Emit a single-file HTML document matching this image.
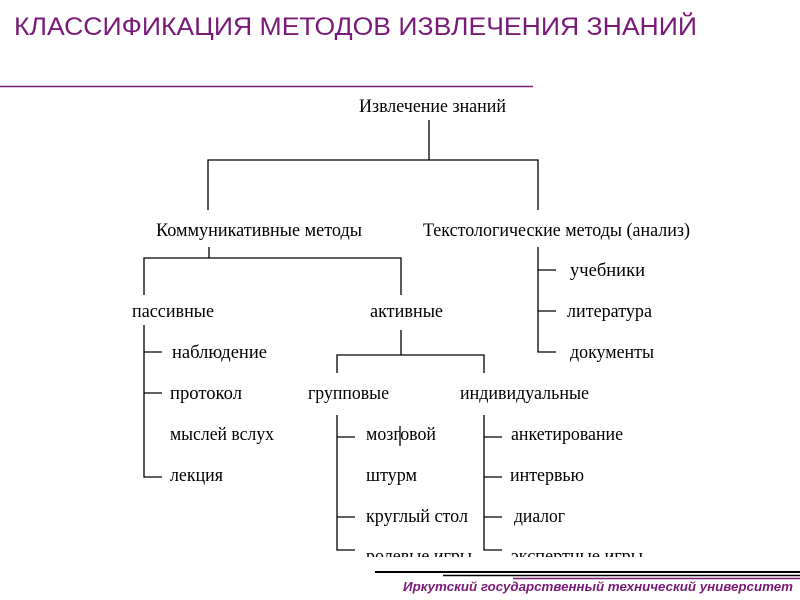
<!DOCTYPE html>
<html><head><meta charset="utf-8"><style>
html,body{margin:0;padding:0;background:#fff;width:800px;height:600px;overflow:hidden}
</style></head><body>
<svg width="800" height="600" xmlns="http://www.w3.org/2000/svg">
<text x="14" y="35" font-family="Liberation Sans, sans-serif" font-size="25" fill="#7a1a78" textLength="683" lengthAdjust="spacingAndGlyphs">КЛАССИФИКАЦИЯ МЕТОДОВ ИЗВЛЕЧЕНИЯ ЗНАНИЙ</text>
<line x1="0" y1="86.5" x2="533" y2="86.5" stroke="#7a1a78" stroke-width="1.5"/>
<defs><clipPath id="c"><rect x="0" y="90" width="800" height="467"/></clipPath></defs>
<g clip-path="url(#c)" font-family="Liberation Serif, serif" font-size="19" fill="#000" lengthAdjust="spacingAndGlyphs">
<g stroke="#000" stroke-width="1.3" fill="none">
<path d="M429 120V160M208 210V160H538V210"/>
<path d="M209 247V258M144 295V258H401V295"/>
<path d="M538 247V352H556M538 270H556M538 311H556"/>
<path d="M144 325V477H162M144 352H162M144 393H162"/>
<path d="M401 330V355M337 373V355H484V373"/>
<path d="M337 415V550H355M337 437H355M337 517H355"/>
<path d="M484 415V550H502M484 437H502M484 477H502M484 517H502"/>
<path d="M400 426V446"/>
</g>
<text x="359" y="112" textLength="147" lengthAdjust="spacingAndGlyphs">Извлечение знаний</text>
<text x="156" y="236" textLength="206" lengthAdjust="spacingAndGlyphs">Коммуникативные методы</text>
<text x="423" y="236" textLength="267" lengthAdjust="spacingAndGlyphs">Текстологические методы (анализ)</text>
<text x="570" y="276" textLength="75" lengthAdjust="spacingAndGlyphs">учебники</text>
<text x="567" y="317" textLength="85" lengthAdjust="spacingAndGlyphs">литература</text>
<text x="570" y="358" textLength="84" lengthAdjust="spacingAndGlyphs">документы</text>
<text x="132" y="317" textLength="82" lengthAdjust="spacingAndGlyphs">пассивные</text>
<text x="370" y="317" textLength="73" lengthAdjust="spacingAndGlyphs">активные</text>
<text x="172" y="358" textLength="95" lengthAdjust="spacingAndGlyphs">наблюдение</text>
<text x="170" y="399" textLength="72" lengthAdjust="spacingAndGlyphs">протокол</text>
<text x="170" y="440" textLength="104" lengthAdjust="spacingAndGlyphs">мыслей вслух</text>
<text x="170" y="481" textLength="53" lengthAdjust="spacingAndGlyphs">лекция</text>
<text x="308" y="399" textLength="81" lengthAdjust="spacingAndGlyphs">групповые</text>
<text x="460" y="399" textLength="129" lengthAdjust="spacingAndGlyphs">индивидуальные</text>
<text x="366" y="440" textLength="70" lengthAdjust="spacingAndGlyphs">мозговой</text>
<text x="366" y="481" textLength="51" lengthAdjust="spacingAndGlyphs">штурм</text>
<text x="366" y="522" textLength="102" lengthAdjust="spacingAndGlyphs">круглый стол</text>
<text x="366" y="562" textLength="106" lengthAdjust="spacingAndGlyphs">ролевые игры</text>
<text x="511" y="440" textLength="112" lengthAdjust="spacingAndGlyphs">анкетирование</text>
<text x="510" y="481" textLength="74" lengthAdjust="spacingAndGlyphs">интервью</text>
<text x="514" y="522" textLength="51" lengthAdjust="spacingAndGlyphs">диалог</text>
<text x="511" y="562" textLength="132" lengthAdjust="spacingAndGlyphs">экспертные игры</text>
</g>
<line x1="375" y1="572" x2="800" y2="572" stroke="#000" stroke-width="2"/>
<line x1="443" y1="575.5" x2="800" y2="575.5" stroke="#000" stroke-width="1.5"/>
<line x1="513" y1="578.5" x2="800" y2="578.5" stroke="#7a1a78" stroke-width="1.5"/>
<text x="403" y="591" font-family="Liberation Sans, sans-serif" font-size="13" font-weight="bold" font-style="italic" fill="#7a1a78" textLength="390" lengthAdjust="spacingAndGlyphs">Иркутский государственный технический университет</text>
</svg>
</body></html>
